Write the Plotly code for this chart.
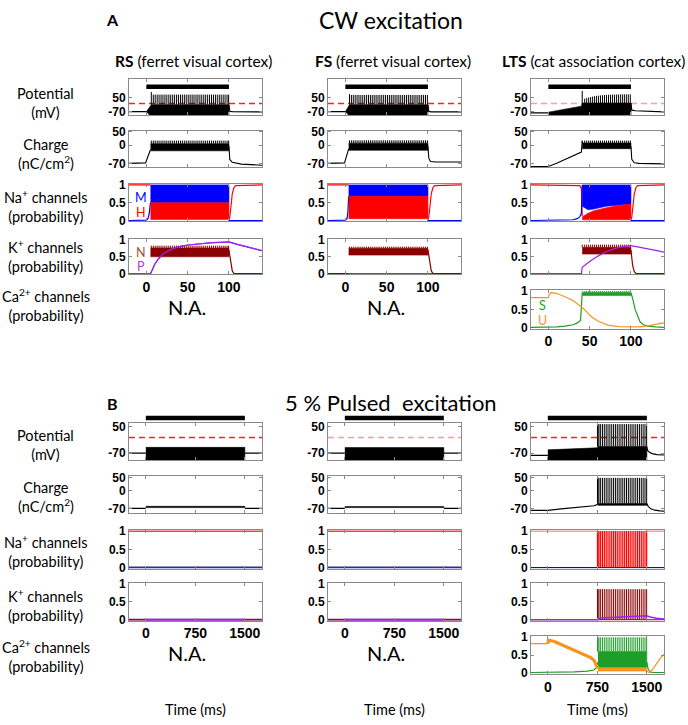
import plotly.graph_objects as go

W, H = 688, 725

# ===================== DATA =====================
A_XRANGE = [-21, 140]
B_XRANGE = [-255, 1760]
A_XTICKS = [0, 50, 100]
B_XTICKS = [0, 750, 1500]
A_STIM = [0, 100]
B_STIM = [0, 1500]
V_THRESHOLD = 0

A_POT_RANGE = [-100, 215]
A_CHG_RANGE = [-85, 54]
B_POT_RANGE = [-102, 65]
B_CHG_RANGE = [-90, 57]
PROB_RANGE = [-0.025, 1.025]

POT_TICKS = [50, -70]
CHG_TICKS = [50, 0, -70]
PROB_TICKS = [1, 0.5, 0]
PROB_TICKTEXT = ["1", "0.5", "0"]

# spike times (ms)
A_RS_SPIKES = [6, 8.4, 10.7, 13.1, 15.4, 17.8, 20.1, 22.5, 24.8, 27.2, 29.5, 31.9, 34.2, 36.6,
               38.9, 41.3, 43.6, 46.0, 48.3, 50.7, 53.0, 55.4, 57.7, 60.1, 62.4, 64.8, 67.1,
               69.5, 71.8, 74.2, 76.5, 78.9, 81.2, 83.6, 85.9, 88.3, 90.6, 93.0, 95.3, 97.7, 99.6]
A_FS_SPIKES = [5, 7.3, 9.6, 11.9, 14.2, 16.5, 18.8, 21.1, 23.4, 25.7, 28.0, 30.3, 32.6, 34.9,
               37.2, 39.5, 41.8, 44.1, 46.4, 48.7, 51.0, 53.3, 55.6, 57.9, 60.2, 62.5, 64.8,
               67.1, 69.4, 71.7, 74.0, 76.3, 78.6, 80.9, 83.2, 85.5, 87.8, 90.1, 92.4, 94.7, 97.0, 99.3]
A_LTS_SPIKES = [41, 44, 46.4, 48.8, 51.2, 53.6, 56, 58.4, 60.8, 63.2, 65.6, 68, 70.4, 72.8,
                75.2, 77.6, 80, 82.4, 84.8, 87.2, 89.6, 92, 94.4, 96.8, 99.2]
A_LTS_V_PEAKS = [110, 42, 48, 53, 57, 61, 64, 67, 69, 71, 73, 74, 75, 76, 77, 78, 78, 79, 79,
                 80, 80, 80, 80, 80, 80]
B_LTS_SPIKES = [752, 760, 775, 800, 828, 856, 884, 912, 940, 968, 996, 1024, 1052, 1080, 1108,
                1136, 1164, 1192, 1220, 1248, 1276, 1304, 1332, 1360, 1388, 1416, 1444, 1472, 1497]

# ---- A / RS ----
A_RS_V_PRE_T = [-21, 0];            A_RS_V_PRE = [-70, -70]
A_RS_V_BAND_T = [0, 2, 4, 6, 100]
A_RS_V_BAND_LO = [-70, -85, -98, -98, -98]
A_RS_V_BAND_HI = [-70, -50, -25, -10, -10]
A_RS_V_POST_T = [100, 101, 104, 120, 140]; A_RS_V_POST = [-10, -66, -70, -72, -72]
A_RS_V_PEAK, A_RS_V_FIRST = 78, 100

A_RS_Q_PRE_T = [-21, -1, 5];        A_RS_Q_PRE = [-70, -68, -18]
A_RS_Q_BAND_T = [5, 100];           A_RS_Q_BAND_LO = [-22, -22]; A_RS_Q_BAND_HI = [5, 5]
A_RS_Q_POST_T = [100, 101, 104, 115, 140]; A_RS_Q_POST = [-5, -55, -66, -73, -77]
A_RS_Q_PEAK = 17

A_RS_M_PRE_T = [-21, 0, 2, 3.5, 5]; A_RS_M_PRE = [0, 0.01, 0.05, 0.2, 0.5]
A_RS_M_BAND_T = [5, 100];           A_RS_M_BAND_LO = [0.5, 0.5]; A_RS_M_BAND_HI = [1, 1]
A_RS_H_BAND_T = [5, 100];           A_RS_H_BAND_LO = [0.03, 0.03]; A_RS_H_BAND_HI = [0.5, 0.5]
A_RS_H_PRE_T = [-21, 5];            A_RS_H_PRE = [1, 1]
A_RS_H_POST_T = [100, 101, 102, 103, 104, 106, 108, 140]
A_RS_H_POST = [0.02, 0.1, 0.3, 0.55, 0.75, 0.92, 0.98, 1]
A_RS_M_POST_T = [100, 140];         A_RS_M_POST = [0, 0]

A_RS_N_PRE_T = [-21, 5];            A_RS_N_PRE = [0, 0]
A_RS_N_BAND_T = [5, 100];           A_RS_N_BAND_LO = [0.5, 0.5]; A_RS_N_BAND_HI = [0.76, 0.76]
A_RS_N_PEAK = 0.83
A_RS_N_POST_T = [100, 101, 102, 103, 104, 106, 140]
A_RS_N_POST = [0.7, 0.55, 0.35, 0.18, 0.08, 0.01, 0]
A_RS_P_T = [-21, 5, 7, 10, 15, 20, 30, 40, 50, 60, 70, 80, 90, 100, 110, 120, 130, 140]
A_RS_P = [0, 0, 0.1, 0.27, 0.45, 0.58, 0.72, 0.8, 0.85, 0.88, 0.9, 0.92, 0.93, 0.94, 0.87, 0.8, 0.74, 0.68]

# ---- A / FS ----
A_FS_V_PRE_T = [-21, 0];            A_FS_V_PRE = [-70, -70]
A_FS_V_BAND_T = [0, 2, 4, 5, 100]
A_FS_V_BAND_LO = [-70, -85, -98, -98, -98]
A_FS_V_BAND_HI = [-70, -45, -20, -10, -10]
A_FS_V_POST_T = [100, 101, 104, 140]; A_FS_V_POST = [-10, -68, -71, -71]
A_FS_V_PEAK, A_FS_V_FIRST = 75, 82

A_FS_Q_PRE_T = [-21, -1, 4];        A_FS_Q_PRE = [-70, -68, -15]
A_FS_Q_BAND_T = [4, 100];           A_FS_Q_BAND_LO = [-20, -20]; A_FS_Q_BAND_HI = [7, 7]
A_FS_Q_POST_T = [100, 101, 103, 110, 140]; A_FS_Q_POST = [-5, -50, -63, -65, -65]
A_FS_Q_PEAK = 18

A_FS_M_PRE_T = [-21, 0, 2, 3, 4];   A_FS_M_PRE = [0, 0.01, 0.05, 0.2, 0.68]
A_FS_M_BAND_T = [4, 100];           A_FS_M_BAND_LO = [0.68, 0.68]; A_FS_M_BAND_HI = [1, 1]
A_FS_H_BAND_T = [4, 100];           A_FS_H_BAND_LO = [0.05, 0.05]; A_FS_H_BAND_HI = [0.68, 0.68]
A_FS_H_PRE_T = [-21, 4];            A_FS_H_PRE = [1, 1]
A_FS_H_POST_T = [100, 101, 102, 103, 104, 106, 108, 140]
A_FS_H_POST = [0.02, 0.1, 0.3, 0.55, 0.75, 0.92, 0.98, 1]
A_FS_M_POST_T = [100, 140];         A_FS_M_POST = [0, 0]

A_FS_N_PRE_T = [-21, 4];            A_FS_N_PRE = [0, 0]
A_FS_N_BAND_T = [4, 100];           A_FS_N_BAND_LO = [0.55, 0.55]; A_FS_N_BAND_HI = [0.75, 0.75]
A_FS_N_PEAK = 0.8
A_FS_N_POST_T = [100, 101, 102, 103, 104, 106, 140]
A_FS_N_POST = [0.7, 0.55, 0.35, 0.18, 0.08, 0.01, 0]
A_FS_P_T = [-21, 140];              A_FS_P = [0, 0]

# ---- A / LTS ----
A_LTS_V_PRE_T = [-21, 0];           A_LTS_V_PRE = [-80, -80]
A_LTS_V_BAND_T = [0, 40, 41, 100]
A_LTS_V_BAND_LO = [-98, -98, -98, -98]
A_LTS_V_BAND_HI = [-74, -22, 5, 5]
A_LTS_V_POST_T = [100, 101, 105, 120, 140]; A_LTS_V_POST = [5, -57, -62, -68, -72]

A_LTS_Q_PRE_T = [-21, 0, 10, 20, 30, 38, 40, 41]
A_LTS_Q_PRE = [-82, -82, -70, -56, -43, -31, -27, 15]
A_LTS_Q_BAND_T = [41, 100];         A_LTS_Q_BAND_LO = [-14, -14]; A_LTS_Q_BAND_HI = [8, 8]
A_LTS_Q_POST_T = [100, 101, 104, 110, 140]; A_LTS_Q_POST = [-5, -55, -68, -70, -72]
A_LTS_Q_PEAK = 17

A_LTS_H_PRE_T = [-21, 36, 38, 40, 41];   A_LTS_H_PRE = [1, 1, 0.98, 0.9, 0.12]
A_LTS_M_PRE_T = [-21, 20, 25, 30, 35, 38, 40, 41]
A_LTS_M_PRE = [0, 0, 0.01, 0.02, 0.05, 0.1, 0.2, 1]
A_LTS_NA_BAND_T = [41, 44, 48, 55, 70, 85, 100]
A_LTS_M_BAND_LO = [0.4, 0.36, 0.3, 0.32, 0.4, 0.43, 0.46]
A_LTS_M_BAND_HI = [1, 1, 1, 1, 1, 1, 1]
A_LTS_H_BAND_LO = [0.02, 0.02, 0.02, 0.02, 0.02, 0.02, 0.02]
A_LTS_H_BAND_HI = [0.1, 0.15, 0.2, 0.27, 0.36, 0.42, 0.46]
A_LTS_H_POST_T = [100, 101, 102, 103, 104, 106, 108, 140]
A_LTS_H_POST = [0.02, 0.1, 0.3, 0.55, 0.75, 0.92, 0.98, 1]
A_LTS_M_POST_T = [100, 140];        A_LTS_M_POST = [0, 0]

A_LTS_N_PRE_T = [-21, 41];          A_LTS_N_PRE = [0, 0]
A_LTS_N_BAND_T = [41, 100];         A_LTS_N_BAND_LO = [0.58, 0.58]; A_LTS_N_BAND_HI = [0.78, 0.78]
A_LTS_N_PEAK = 0.86
A_LTS_N_POST_T = [100, 101, 102, 104, 106, 140]
A_LTS_N_POST = [0.7, 0.5, 0.25, 0.06, 0.01, 0]
A_LTS_P_T = [-21, 40, 41, 50, 60, 70, 80, 90, 100, 110, 120, 130, 140]
A_LTS_P = [0, 0, 0.19, 0.36, 0.52, 0.65, 0.74, 0.8, 0.83, 0.79, 0.74, 0.69, 0.64]

A_LTS_U_T = [-21, 0, 1, 3, 10, 19, 25, 31, 36, 42, 47, 52, 60, 72, 85, 100, 110, 120, 130, 140]
A_LTS_U = [0.82, 0.82, 0.9, 0.96, 0.94, 0.86, 0.8, 0.72, 0.64, 0.53, 0.42, 0.3, 0.18, 0.07,
           0.03, 0.02, 0.02, 0.05, 0.09, 0.13]
A_LTS_S_PRE_T = [-21, 0, 10, 20, 30, 35, 39, 41]
A_LTS_S_PRE = [0.01, 0.01, 0.02, 0.04, 0.08, 0.13, 0.2, 0.95]
A_LTS_S_BAND_T = [41, 100];         A_LTS_S_BAND_LO = [0.88, 0.88]; A_LTS_S_BAND_HI = [0.97, 0.97]
A_LTS_S_PEAK = 1.0
A_LTS_S_POST_T = [100, 102, 105, 108, 111, 115, 121, 130, 140]
A_LTS_S_POST = [0.95, 0.8, 0.5, 0.3, 0.16, 0.08, 0.04, 0.02, 0.01]

# ---- B / RS ----
B_RS_V_PRE_T = [-255, 0];           B_RS_V_PRE = [-70, -70]
B_RS_V_BAND_T = [0, 1500];          B_RS_V_BAND_LO = [-101, -101]; B_RS_V_BAND_HI = [-44, -44]
B_RS_V_POST_T = [1500, 1760];       B_RS_V_POST = [-70, -70]
B_RS_Q_PRE_T = [-255, 0];           B_RS_Q_PRE = [-70, -70]
B_RS_Q_BAND_T = [0, 1500];          B_RS_Q_BAND_LO = [-67, -67]; B_RS_Q_BAND_HI = [-62, -62]
B_RS_Q_POST_T = [1500, 1760];       B_RS_Q_POST = [-70, -70]
B_RS_H_T = [-255, 1760];            B_RS_H = [1, 1]
B_RS_M_T = [-255, 1760];            B_RS_M = [0, 0]
B_RS_N_T = [-255, 1760];            B_RS_N = [0, 0]
B_RS_P_T = [0, 1500];               B_RS_P = [0, 0]

# ---- B / FS ----
B_FS_V_PRE_T = [-255, 0];           B_FS_V_PRE = [-70, -70]
B_FS_V_BAND_T = [0, 1500];          B_FS_V_BAND_LO = [-101, -101]; B_FS_V_BAND_HI = [-45, -45]
B_FS_V_POST_T = [1500, 1760];       B_FS_V_POST = [-70, -70]
B_FS_Q_PRE_T = [-255, 0];           B_FS_Q_PRE = [-70, -70]
B_FS_Q_BAND_T = [0, 1500];          B_FS_Q_BAND_LO = [-67, -67]; B_FS_Q_BAND_HI = [-63, -63]
B_FS_Q_POST_T = [1500, 1760];       B_FS_Q_POST = [-70, -70]
B_FS_H_T = [-255, 1760];            B_FS_H = [1, 1]
B_FS_M_T = [-255, 1760];            B_FS_M = [0, 0]
B_FS_N_T = [-255, 1760];            B_FS_N = [0, 0]
B_FS_P_T = [0, 1500];               B_FS_P = [0, 0]

# ---- B / LTS ----
B_LTS_V_PRE_T = [-255, 0];          B_LTS_V_PRE = [-80, -80]
B_LTS_V_BAND_T = [0, 200, 400, 600, 700, 750, 760, 1500]
B_LTS_V_BAND_LO = [-101, -101, -101, -101, -101, -101, -101, -101]
B_LTS_V_BAND_HI = [-55, -53, -51, -49, -47, -46, -40, -40]
B_LTS_V_POST_T = [1500, 1510, 1540, 1580, 1650, 1760]; B_LTS_V_POST = [-40, -58, -66, -72, -76, -78]
B_LTS_V_PEAK = 60

B_LTS_Q_PRE_T = [-255, 0, 200, 400, 600, 700, 740, 755]
B_LTS_Q_PRE = [-78, -78, -72, -68, -64, -60, -56, -52]
B_LTS_Q_BAND_T = [755, 1500];       B_LTS_Q_BAND_LO = [-58, -58]; B_LTS_Q_BAND_HI = [-51, -51]
B_LTS_Q_POST_T = [1500, 1520, 1560, 1620, 1700, 1760]; B_LTS_Q_POST = [-51, -62, -72, -77, -80, -81]
B_LTS_Q_PEAK = 50

B_LTS_H_PRE_T = [-255, 750];        B_LTS_H_PRE = [1, 1]
B_LTS_H_POST_T = [1500, 1760];      B_LTS_H_POST = [1, 1]
B_LTS_M_T = [-255, 1760];           B_LTS_M = [0, 0]

B_LTS_N_T = [-255, 1760];           B_LTS_N = [0, 0]
B_LTS_N_PEAK = 0.86
B_LTS_P_T = [-255, 750, 800, 1000, 1200, 1500, 1550, 1650, 1760]
B_LTS_P = [0, 0, 0.05, 0.07, 0.09, 0.11, 0.08, 0.04, 0.02]

B_LTS_U_PRE_T = [-255, 0];          B_LTS_U_PRE = [0.82, 0.82]
B_LTS_U_DEC_T = [0, 10, 100, 200, 300, 400, 500, 600, 650, 700, 730, 760]
B_LTS_U_DEC = [0.82, 0.92, 0.88, 0.8, 0.72, 0.65, 0.57, 0.48, 0.43, 0.35, 0.24, 0.12]
B_LTS_U_BAND_T = [760, 1500];       B_LTS_U_BAND_LO = [0.05, 0.05]; B_LTS_U_BAND_HI = [0.14, 0.14]
B_LTS_U_POST_T = [1500, 1540, 1580, 1640, 1700, 1760]; B_LTS_U_POST = [0.06, 0.0, 0.08, 0.25, 0.4, 0.52]
B_LTS_S_PRE_T = [-255, 0, 200, 400, 600, 700, 740, 760]
B_LTS_S_PRE = [0.01, 0.01, 0.02, 0.03, 0.05, 0.08, 0.15, 0.3]
B_LTS_S_BAND_T = [760, 1500];       B_LTS_S_BAND_LO = [0.15, 0.15]; B_LTS_S_BAND_HI = [0.6, 0.6]
B_LTS_S_PEAK = 1.0
B_LTS_S_POST_T = [1500, 1520, 1560, 1600, 1760]; B_LTS_S_POST = [0.3, 0.1, 0.02, 0.01, 0.01]

# ===================== STYLE / LAYOUT =====================
BLACK = "#000000"
RED = "#FF0000"
BLUE = "#0000FF"
NAVY = "#2B2BB0"
DRED = "#8B0000"
PURP = "#A020F0"
GREEN = "#1E9E28"
ORANGE = "#F7941D"
THR_RED = "#FF2020"
THR_PINK = "#FF9C9C"

COLS = {"RS": (129, 262), "FS": (328, 461), "LTS": (531, 664)}
A_ROWS = [(74, 111), (127, 164), (181, 219), (237, 273), (289, 328)]
B_ROWS = [(424, 462), (478, 516), (533, 572), (587, 625), (641, 679)]
A_BAR_Y = 82
B_BAR_Y = 419

LBL_FONT = "Lato"
TICK_FONT = "Liberation Sans"


def px(x):
    return x / W


def py(y):
    return 1 - y / H


traces = []
layout_axes = {}
shapes = []
annotations = []
k_counter = [0]


def ax_names(k):
    return ("x" if k == 1 else f"x{k}"), ("y" if k == 1 else f"y{k}")


def line(k, t, v, color, width=1.0):
    xa, ya = ax_names(k)
    traces.append(go.Scatter(x=t, y=v, mode="lines", line=dict(color=color, width=width),
                             xaxis=xa, yaxis=ya, hoverinfo="skip"))


def band(k, t, lo, hi, color):
    xa, ya = ax_names(k)
    xs = list(t) + list(t)[::-1]
    ys = list(hi) + list(lo)[::-1]
    traces.append(go.Scatter(x=xs, y=ys, mode="lines", fill="toself", fillcolor=color,
                             line=dict(color=color, width=0.6), xaxis=xa, yaxis=ya,
                             hoverinfo="skip"))


def spikes(k, times, base, peak, color, width=1.0, first=None):
    xa, ya = ax_names(k)
    xs, ys = [], []
    for i, s in enumerate(times):
        if isinstance(peak, (list, tuple)):
            p = peak[i]
        else:
            p = peak
        if i == 0 and first is not None:
            p = first
        xs += [s, s, None]
        ys += [base, p, None]
    traces.append(go.Scatter(x=xs, y=ys, mode="lines", line=dict(color=color, width=width),
                             xaxis=xa, yaxis=ya, hoverinfo="skip"))


def new_axis(col, rows, row, xrange, xticks, yrange, yticks, yticktext=None, xlabels=False):
    k_counter[0] += 1
    k = k_counter[0]
    l, r = COLS[col]
    t, b = rows[row]
    xa, ya = ax_names(k)
    common = dict(showgrid=False, zeroline=False, showline=True, mirror="ticks",
                  linecolor="#8a8a8a", linewidth=1, ticks="inside", ticklen=3,
                  tickcolor="#8a8a8a", fixedrange=True)
    layout_axes["xaxis" if k == 1 else f"xaxis{k}"] = dict(
        domain=[px(l), px(r)], range=xrange, anchor=ya, tickvals=xticks,
        ticktext=[str(v) for v in xticks], showticklabels=xlabels,
        tickfont=dict(family=TICK_FONT, size=14, color="black", weight="bold"), **common)
    layout_axes["yaxis" if k == 1 else f"yaxis{k}"] = dict(
        domain=[py(b), py(t)], range=yrange, anchor=xa, tickvals=yticks,
        ticktext=yticktext if yticktext else [str(v) for v in yticks],
        tickfont=dict(family=TICK_FONT, size=12, color="black", weight="bold"), **common)
    return k


def threshold(k, color):
    xa, ya = ax_names(k)
    shapes.append(dict(type="line", xref=f"{xa} domain", yref=ya, x0=0, x1=1,
                       y0=V_THRESHOLD, y1=V_THRESHOLD, layer="below",
                       line=dict(color=color, width=1.5, dash="6px,4px")))


def stimbar(k, stim, ypix):
    xa, ya = ax_names(k)
    shapes.append(dict(type="line", xref=xa, yref="paper", x0=stim[0], x1=stim[1],
                       y0=py(ypix), y1=py(ypix), layer="above",
                       line=dict(color="black", width=4.5)))


def text(x, y, s, size, color="black", family=LBL_FONT, xanchor="center"):
    annotations.append(dict(x=px(x), y=py(y), xref="paper", yref="paper", text=s,
                            showarrow=False, xanchor=xanchor, yanchor="middle",
                            font=dict(family=family, size=size, color=color)))


# ------------- block A -------------
def block_A_simple(col, d):
    (vpre_t, vpre, vb_t, vb_lo, vb_hi, vpost_t, vpost, spk, vpk, vfirst, thr_col,
     qpre_t, qpre, qb_t, qb_lo, qb_hi, qpost_t, qpost, qpk,
     mpre_t, mpre, mb_t, mb_lo, mb_hi, hb_t, hb_lo, hb_hi, hpre_t, hpre, hpost_t, hpost, mpost_t, mpost,
     npre_t, npre, nb_t, nb_lo, nb_hi, npk, npost_t, npost, p_t, p) = d
    k = new_axis(col, A_ROWS, 0, A_XRANGE, A_XTICKS, A_POT_RANGE, POT_TICKS)
    threshold(k, thr_col)
    line(k, vpre_t, vpre, BLACK, 1.2)
    band(k, vb_t, vb_lo, vb_hi, BLACK)
    spikes(k, spk, vb_hi[-1], vpk, BLACK, 1.0, first=vfirst)
    line(k, vpost_t, vpost, BLACK, 1.2)
    stimbar(k, A_STIM, A_BAR_Y)
    k = new_axis(col, A_ROWS, 1, A_XRANGE, A_XTICKS, A_CHG_RANGE, CHG_TICKS)
    line(k, qpre_t, qpre, BLACK, 1.1)
    band(k, qb_t, qb_lo, qb_hi, BLACK)
    spikes(k, spk, qb_hi[-1], qpk, BLACK, 1.0)
    line(k, qpost_t, qpost, BLACK, 1.1)
    k = new_axis(col, A_ROWS, 2, A_XRANGE, A_XTICKS, PROB_RANGE, PROB_TICKS, PROB_TICKTEXT)
    line(k, hpre_t, hpre, RED, 1.2)
    line(k, mpre_t, mpre, BLUE, 1.2)
    band(k, mb_t, mb_lo, mb_hi, BLUE)
    band(k, hb_t, hb_lo, hb_hi, RED)
    line(k, mpost_t, mpost, BLUE, 1.2)
    line(k, hpost_t, hpost, RED, 1.2)
    k = new_axis(col, A_ROWS, 3, A_XRANGE, A_XTICKS, PROB_RANGE, PROB_TICKS, PROB_TICKTEXT,
                 xlabels=True)
    line(k, p_t, p, PURP, 1.2)
    line(k, npre_t, npre, DRED, 1.2)
    band(k, nb_t, nb_lo, nb_hi, DRED)
    spikes(k, spk, nb_hi[-1], npk, DRED, 1.0)
    line(k, npost_t, npost, DRED, 1.2)
    if col == "RS":
        line(k, p_t, p, PURP, 1.2)


block_A_simple("RS", (A_RS_V_PRE_T, A_RS_V_PRE, A_RS_V_BAND_T, A_RS_V_BAND_LO, A_RS_V_BAND_HI,
                      A_RS_V_POST_T, A_RS_V_POST, A_RS_SPIKES, A_RS_V_PEAK, A_RS_V_FIRST, THR_RED,
                      A_RS_Q_PRE_T, A_RS_Q_PRE, A_RS_Q_BAND_T, A_RS_Q_BAND_LO, A_RS_Q_BAND_HI,
                      A_RS_Q_POST_T, A_RS_Q_POST, A_RS_Q_PEAK,
                      A_RS_M_PRE_T, A_RS_M_PRE, A_RS_M_BAND_T, A_RS_M_BAND_LO, A_RS_M_BAND_HI,
                      A_RS_H_BAND_T, A_RS_H_BAND_LO, A_RS_H_BAND_HI, A_RS_H_PRE_T, A_RS_H_PRE,
                      A_RS_H_POST_T, A_RS_H_POST, A_RS_M_POST_T, A_RS_M_POST,
                      A_RS_N_PRE_T, A_RS_N_PRE, A_RS_N_BAND_T, A_RS_N_BAND_LO, A_RS_N_BAND_HI,
                      A_RS_N_PEAK, A_RS_N_POST_T, A_RS_N_POST, A_RS_P_T, A_RS_P))
block_A_simple("FS", (A_FS_V_PRE_T, A_FS_V_PRE, A_FS_V_BAND_T, A_FS_V_BAND_LO, A_FS_V_BAND_HI,
                      A_FS_V_POST_T, A_FS_V_POST, A_FS_SPIKES, A_FS_V_PEAK, A_FS_V_FIRST, THR_RED,
                      A_FS_Q_PRE_T, A_FS_Q_PRE, A_FS_Q_BAND_T, A_FS_Q_BAND_LO, A_FS_Q_BAND_HI,
                      A_FS_Q_POST_T, A_FS_Q_POST, A_FS_Q_PEAK,
                      A_FS_M_PRE_T, A_FS_M_PRE, A_FS_M_BAND_T, A_FS_M_BAND_LO, A_FS_M_BAND_HI,
                      A_FS_H_BAND_T, A_FS_H_BAND_LO, A_FS_H_BAND_HI, A_FS_H_PRE_T, A_FS_H_PRE,
                      A_FS_H_POST_T, A_FS_H_POST, A_FS_M_POST_T, A_FS_M_POST,
                      A_FS_N_PRE_T, A_FS_N_PRE, A_FS_N_BAND_T, A_FS_N_BAND_LO, A_FS_N_BAND_HI,
                      A_FS_N_PEAK, A_FS_N_POST_T, A_FS_N_POST, A_FS_P_T, A_FS_P))

# A / LTS
k = new_axis("LTS", A_ROWS, 0, A_XRANGE, A_XTICKS, A_POT_RANGE, POT_TICKS)
threshold(k, THR_PINK)
line(k, A_LTS_V_PRE_T, A_LTS_V_PRE, BLACK, 1.2)
band(k, A_LTS_V_BAND_T, A_LTS_V_BAND_LO, A_LTS_V_BAND_HI, BLACK)
spikes(k, A_LTS_SPIKES, A_LTS_V_BAND_HI[-1], A_LTS_V_PEAKS, BLACK, 1.0)
line(k, A_LTS_V_POST_T, A_LTS_V_POST, BLACK, 1.2)
stimbar(k, A_STIM, A_BAR_Y)
k = new_axis("LTS", A_ROWS, 1, A_XRANGE, A_XTICKS, A_CHG_RANGE, CHG_TICKS)
line(k, A_LTS_Q_PRE_T, A_LTS_Q_PRE, BLACK, 1.1)
band(k, A_LTS_Q_BAND_T, A_LTS_Q_BAND_LO, A_LTS_Q_BAND_HI, BLACK)
spikes(k, A_LTS_SPIKES, A_LTS_Q_BAND_HI[-1], A_LTS_Q_PEAK, BLACK, 1.0)
line(k, A_LTS_Q_POST_T, A_LTS_Q_POST, BLACK, 1.1)
k = new_axis("LTS", A_ROWS, 2, A_XRANGE, A_XTICKS, PROB_RANGE, PROB_TICKS, PROB_TICKTEXT)
line(k, A_LTS_H_PRE_T, A_LTS_H_PRE, RED, 1.2)
line(k, A_LTS_M_PRE_T, A_LTS_M_PRE, BLUE, 1.2)
band(k, A_LTS_NA_BAND_T, A_LTS_M_BAND_LO, A_LTS_M_BAND_HI, BLUE)
band(k, A_LTS_NA_BAND_T, A_LTS_H_BAND_LO, A_LTS_H_BAND_HI, RED)
line(k, A_LTS_M_POST_T, A_LTS_M_POST, BLUE, 1.2)
line(k, A_LTS_H_POST_T, A_LTS_H_POST, RED, 1.2)
k = new_axis("LTS", A_ROWS, 3, A_XRANGE, A_XTICKS, PROB_RANGE, PROB_TICKS, PROB_TICKTEXT)
line(k, A_LTS_N_PRE_T, A_LTS_N_PRE, DRED, 1.2)
band(k, A_LTS_N_BAND_T, A_LTS_N_BAND_LO, A_LTS_N_BAND_HI, DRED)
spikes(k, A_LTS_SPIKES, A_LTS_N_BAND_HI[-1], A_LTS_N_PEAK, DRED, 1.0)
line(k, A_LTS_N_POST_T, A_LTS_N_POST, DRED, 1.2)
line(k, A_LTS_P_T, A_LTS_P, PURP, 1.2)
k = new_axis("LTS", A_ROWS, 4, A_XRANGE, A_XTICKS, PROB_RANGE, PROB_TICKS, PROB_TICKTEXT,
             xlabels=True)
line(k, A_LTS_S_PRE_T, A_LTS_S_PRE, GREEN, 1.2)
band(k, A_LTS_S_BAND_T, A_LTS_S_BAND_LO, A_LTS_S_BAND_HI, GREEN)
spikes(k, A_LTS_SPIKES, A_LTS_S_BAND_HI[-1], A_LTS_S_PEAK, GREEN, 1.0)
line(k, A_LTS_S_POST_T, A_LTS_S_POST, GREEN, 1.2)
line(k, A_LTS_U_T, A_LTS_U, ORANGE, 1.2)


# ------------- block B -------------
def block_B_simple(col, d, thr_col):
    (vpre_t, vpre, vb_t, vb_lo, vb_hi, vpost_t, vpost,
     qpre_t, qpre, qb_t, qb_lo, qb_hi, qpost_t, qpost,
     h_t, h, m_t, m, n_t, n, p_t, p) = d
    k = new_axis(col, B_ROWS, 0, B_XRANGE, B_XTICKS, B_POT_RANGE, POT_TICKS)
    threshold(k, thr_col)
    line(k, vpre_t, vpre, BLACK, 1.2)
    band(k, vb_t, vb_lo, vb_hi, BLACK)
    line(k, vpost_t, vpost, BLACK, 1.2)
    stimbar(k, B_STIM, B_BAR_Y)
    k = new_axis(col, B_ROWS, 1, B_XRANGE, B_XTICKS, B_CHG_RANGE, CHG_TICKS)
    line(k, qpre_t, qpre, BLACK, 1.2)
    band(k, qb_t, qb_lo, qb_hi, BLACK)
    line(k, qpost_t, qpost, BLACK, 1.2)
    k = new_axis(col, B_ROWS, 2, B_XRANGE, B_XTICKS, PROB_RANGE, PROB_TICKS, PROB_TICKTEXT)
    line(k, h_t, h, RED, 1.2)
    line(k, m_t, m, NAVY, 2.0)
    k = new_axis(col, B_ROWS, 3, B_XRANGE, B_XTICKS, PROB_RANGE, PROB_TICKS, PROB_TICKTEXT,
                 xlabels=True)
    line(k, n_t, n, "#7A1050", 2.0)
    line(k, p_t, p, PURP, 2.0)


block_B_simple("RS", (B_RS_V_PRE_T, B_RS_V_PRE, B_RS_V_BAND_T, B_RS_V_BAND_LO, B_RS_V_BAND_HI,
                      B_RS_V_POST_T, B_RS_V_POST, B_RS_Q_PRE_T, B_RS_Q_PRE, B_RS_Q_BAND_T,
                      B_RS_Q_BAND_LO, B_RS_Q_BAND_HI, B_RS_Q_POST_T, B_RS_Q_POST,
                      B_RS_H_T, B_RS_H, B_RS_M_T, B_RS_M, B_RS_N_T, B_RS_N, B_RS_P_T, B_RS_P),
               THR_RED)
block_B_simple("FS", (B_FS_V_PRE_T, B_FS_V_PRE, B_FS_V_BAND_T, B_FS_V_BAND_LO, B_FS_V_BAND_HI,
                      B_FS_V_POST_T, B_FS_V_POST, B_FS_Q_PRE_T, B_FS_Q_PRE, B_FS_Q_BAND_T,
                      B_FS_Q_BAND_LO, B_FS_Q_BAND_HI, B_FS_Q_POST_T, B_FS_Q_POST,
                      B_FS_H_T, B_FS_H, B_FS_M_T, B_FS_M, B_FS_N_T, B_FS_N, B_FS_P_T, B_FS_P),
               THR_PINK)

# B / LTS
k = new_axis("LTS", B_ROWS, 0, B_XRANGE, B_XTICKS, B_POT_RANGE, POT_TICKS)
threshold(k, THR_RED)
line(k, B_LTS_V_PRE_T, B_LTS_V_PRE, BLACK, 1.2)
band(k, B_LTS_V_BAND_T, B_LTS_V_BAND_LO, B_LTS_V_BAND_HI, BLACK)
spikes(k, B_LTS_SPIKES, B_LTS_V_BAND_HI[-1], B_LTS_V_PEAK, BLACK, 1.0)
line(k, B_LTS_V_POST_T, B_LTS_V_POST, BLACK, 1.2)
stimbar(k, B_STIM, B_BAR_Y)
k = new_axis("LTS", B_ROWS, 1, B_XRANGE, B_XTICKS, B_CHG_RANGE, CHG_TICKS)
line(k, B_LTS_Q_PRE_T, B_LTS_Q_PRE, BLACK, 1.1)
band(k, B_LTS_Q_BAND_T, B_LTS_Q_BAND_LO, B_LTS_Q_BAND_HI, BLACK)
spikes(k, B_LTS_SPIKES, B_LTS_Q_BAND_HI[-1], B_LTS_Q_PEAK, BLACK, 1.0)
line(k, B_LTS_Q_POST_T, B_LTS_Q_POST, BLACK, 1.1)
k = new_axis("LTS", B_ROWS, 2, B_XRANGE, B_XTICKS, PROB_RANGE, PROB_TICKS, PROB_TICKTEXT)
line(k, B_LTS_M_T, B_LTS_M, BLUE, 1.2)
line(k, B_LTS_H_PRE_T, B_LTS_H_PRE, "rgba(255,0,0,0.5)", 1.2)
spikes(k, B_LTS_SPIKES, 0, 1, RED, 1.2)
line(k, B_LTS_H_POST_T, B_LTS_H_POST, "rgba(255,0,0,0.5)", 1.2)
k = new_axis("LTS", B_ROWS, 3, B_XRANGE, B_XTICKS, PROB_RANGE, PROB_TICKS, PROB_TICKTEXT)
line(k, B_LTS_N_T, B_LTS_N, DRED, 1.2)
spikes(k, B_LTS_SPIKES, 0, B_LTS_N_PEAK, DRED, 1.0)
line(k, B_LTS_P_T, B_LTS_P, PURP, 1.5)
k = new_axis("LTS", B_ROWS, 4, B_XRANGE, B_XTICKS, PROB_RANGE, PROB_TICKS, PROB_TICKTEXT,
             xlabels=True)
line(k, B_LTS_S_PRE_T, B_LTS_S_PRE, GREEN, 1.2)
band(k, B_LTS_S_BAND_T, B_LTS_S_BAND_LO, B_LTS_S_BAND_HI, GREEN)
spikes(k, B_LTS_SPIKES, B_LTS_S_BAND_HI[-1], B_LTS_S_PEAK, GREEN, 1.0)
line(k, B_LTS_S_POST_T, B_LTS_S_POST, GREEN, 1.2)
line(k, B_LTS_U_PRE_T, B_LTS_U_PRE, ORANGE, 1.2)
line(k, B_LTS_U_DEC_T, B_LTS_U_DEC, ORANGE, 3.2)
band(k, B_LTS_U_BAND_T, B_LTS_U_BAND_LO, B_LTS_U_BAND_HI, ORANGE)
line(k, B_LTS_U_POST_T, B_LTS_U_POST, ORANGE, 1.2)

# ------------- texts -------------
text(113, 14, "<b>A</b>", 16)
text(391, 14, "CW excitation", 23)
text(113, 404, "<b>B</b>", 16)
text(391, 403, "5 % Pulsed \u00a0excitation", 22)

text(193, 56, "<b>RS</b> (ferret visual cortex)", 15.5)
text(393, 56, "<b>FS</b> (ferret visual cortex)", 15.5)
text(687, 56, "<b>LTS</b> (cat association cortex)", 15.5, xanchor="right")

ROW_LABELS = ["Potential<br>(mV)", "Charge<br>(nC/cm<sup>2</sup>)",
              "Na<sup>+</sup> channels<br>(probability)",
              "K<sup>+</sup> channels<br>(probability)",
              "Ca<sup>2+</sup> channels<br>(probability)"]
A_LABEL_Y = [98.5, 150.5, 203.5, 254, 304]
B_LABEL_Y = [446, 499, 554, 609, 661]
for s, y in zip(ROW_LABELS, A_LABEL_Y):
    text(46, y, s, 14.5)
for s, y in zip(ROW_LABELS, B_LABEL_Y):
    text(46, y, s, 14.5)

for x in (187, 386):
    text(x, 306, "N.A.", 20)
    text(x, 658, "N.A.", 20)
for x in (195, 394, 597):
    text(x, 715, "Time (ms)", 14.5)

text(141, 195, "M", 12.5, BLUE)
text(141, 209.5, "H", 12.5, RED)
text(141, 250.5, "N", 12.5, "#A0522D")
text(141, 265, "P", 12.5, "#B040E0")
text(542, 305, "S", 12.5, GREEN)
text(542, 319.5, "U", 12.5, ORANGE)

fig = go.Figure(data=traces)
fig.update_layout(width=W, height=H, margin=dict(l=0, r=0, t=0, b=0),
                  paper_bgcolor="white", plot_bgcolor="white", showlegend=False,
                  shapes=shapes, annotations=annotations, **layout_axes)
fig.write_html("out.html", config={"displayModeBar": False},
               post_script="document.body.style.margin='0px';document.body.style.overflow='hidden';")
